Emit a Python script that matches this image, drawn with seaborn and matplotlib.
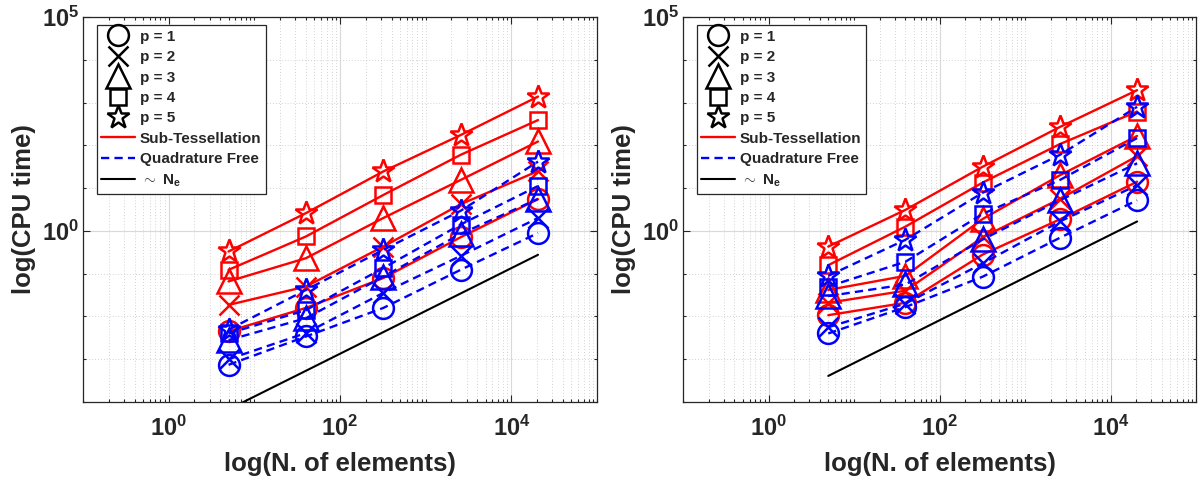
import matplotlib
matplotlib.use('Agg')
import matplotlib.pyplot as plt
import numpy as np
import pandas as pd
import seaborn as sns
from matplotlib.lines import Line2D
from matplotlib.ticker import FixedLocator, FixedFormatter, LogLocator, NullFormatter

# Data (CPU time in seconds)
n_elements = [5, 40, 320, 2560, 20480]
orders = ['p = 1', 'p = 2', 'p = 3', 'p = 4', 'p = 5']

# left panel, one row per p
left_sub_tess = [
    [0.0045, 0.0158, 0.079, 0.71, 5.5],
    [0.0186, 0.050, 0.43, 4.2, 25],
    [0.066, 0.23, 2.0, 15.5, 123],
    [0.123, 0.74, 6.9, 60, 389],
    [0.33, 2.6, 24.5, 174, 1380],
]
left_quad_free = [
    [0.00074, 0.0034, 0.0158, 0.123, 0.89],
    [0.0010, 0.0041, 0.0355, 0.26, 2.0],
    [0.0028, 0.0091, 0.085, 0.85, 5.6],
    [0.0040, 0.0141, 0.135, 1.41, 11.2],
    [0.0049, 0.0417, 0.36, 2.95, 41.7],
]
left_ref = [6.7e-5, 0.276]

# right panel
right_sub_tess = [
    [0.0107, 0.0209, 0.28, 1.86, 14.1],
    [0.0209, 0.040, 0.71, 5.6, 56],
    [0.0417, 0.089, 1.9, 20, 166],
    [0.158, 1.26, 13.5, 107, 617],
    [0.43, 3.1, 31.6, 269, 1950],
]
right_quad_free = [
    [0.0040, 0.0166, 0.085, 0.69, 5.2],
    [0.0056, 0.020, 0.174, 1.66, 11.7],
    [0.030, 0.056, 0.63, 5.2, 38],
    [0.050, 0.19, 2.5, 15.5, 148],
    [0.089, 0.62, 7.8, 60, 794],
]
right_ref = [4.07e-4, 1.66]
ref_x = [5, 20480]

markers = ['o', 'x', '^', 's', '*']
msizes = [15, 14, 17, 12, 17]
dark = '#262626'
dash = (0, (3.5, 2.2))

sns.set_style('ticks')
plt.rcParams.update({
    'font.family': ['Liberation Sans', 'DejaVu Sans'],
    'font.weight': 'bold',
    'axes.labelweight': 'bold',
    'mathtext.fontset': 'custom',
    'mathtext.rm': 'Liberation Sans',
    'mathtext.bf': 'Liberation Sans:bold',
    'text.color': dark,
    'axes.labelcolor': dark,
    'xtick.color': dark,
    'ytick.color': dark,
    'axes.edgecolor': dark,
})


def draw_panel(ax, sub_tess, quad_free, ref):
    for i in range(5):
        sns.lineplot(x=n_elements, y=sub_tess[i], ax=ax, color='red', linewidth=1.7,
                     marker=markers[i], markersize=msizes[i], markerfacecolor='none',
                     markeredgecolor='red', markeredgewidth=1.8)
    for i in range(5):
        sns.lineplot(x=n_elements, y=quad_free[i], ax=ax, color='blue', linewidth=1.7,
                     linestyle=dash, marker=markers[i], markersize=msizes[i],
                     markerfacecolor='none', markeredgecolor='blue', markeredgewidth=1.8)
    sns.lineplot(x=ref_x, y=ref, ax=ax, color='black', linewidth=1.5)

    ax.set_xscale('log')
    ax.set_yscale('log')
    ax.set_xlim(1e-1, 1e5)
    ax.set_ylim(1e-4, 1e5)

    ax.xaxis.set_major_locator(FixedLocator([1, 1e2, 1e4]))
    ax.xaxis.set_major_formatter(FixedFormatter([r'$\mathbf{10^{0}}$', r'$\mathbf{10^{2}}$',
                                                 r'$\mathbf{10^{4}}$']))
    ax.xaxis.set_minor_locator(LogLocator(base=10, subs=np.arange(1, 10), numticks=30))
    ax.xaxis.set_minor_formatter(NullFormatter())
    ax.yaxis.set_major_locator(FixedLocator([1, 1e5]))
    ax.yaxis.set_major_formatter(FixedFormatter([r'$\mathbf{10^{0}}$', r'$\mathbf{10^{5}}$']))
    ax.yaxis.set_minor_locator(FixedLocator([10.0 ** k for k in range(-4, 5)]))
    ax.yaxis.set_minor_formatter(NullFormatter())

    ax.grid(True, which='major', color='#d9d9d9', linewidth=0.8, linestyle='-')
    ax.grid(True, which='minor', color='#c4c4c4', linewidth=0.6, linestyle=(0, (1, 2.5)))
    ax.set_axisbelow(True)
    ax.tick_params(which='both', direction='in', top=True, right=True, width=0.8)
    ax.tick_params(which='major', length=5, labelsize=17)
    ax.tick_params(axis='x', which='major', pad=10)
    ax.tick_params(axis='y', which='major', pad=3)
    ax.tick_params(which='minor', length=2.5)
    for s in ax.spines.values():
        s.set_linewidth(0.9)

    ax.set_xlabel('log(N. of elements)', fontsize=18.5, fontweight='bold', labelpad=8)
    ax.set_ylabel('log(CPU time)', fontsize=18.5, fontweight='bold', labelpad=4)

    handles = [Line2D([], [], color='black', marker=markers[i], linestyle='none',
                      markersize=msizes[i], markerfacecolor='none', markeredgewidth=1.8)
               for i in range(5)]
    handles += [Line2D([], [], color='red', linewidth=1.7),
                Line2D([], [], color='blue', linewidth=1.7, linestyle=dash),
                Line2D([], [], color='black', linewidth=1.5)]
    labels = orders + ['Sub-Tessellation', 'Quadrature Free', r'$\sim$ $\mathbf{N_e}$']
    leg = ax.legend(handles, labels, loc='upper left', bbox_to_anchor=(0.027, 0.979),
                    borderaxespad=0, prop={'weight': 'bold', 'size': 11},
                    fancybox=False, framealpha=1, edgecolor=dark, borderpad=0.3,
                    labelspacing=0.42, handlelength=2.2, handletextpad=0.3)
    leg.get_frame().set_linewidth(0.9)


fig = plt.figure(figsize=(11.98, 4.82), dpi=100)
ax_left = fig.add_axes([83 / 1198, 80 / 482, 514 / 1198, 385 / 482])
ax_right = fig.add_axes([683 / 1198, 80 / 482, 513 / 1198, 385 / 482])

draw_panel(ax_left, left_sub_tess, left_quad_free, left_ref)
draw_panel(ax_right, right_sub_tess, right_quad_free, right_ref)

fig.savefig('out.png', dpi=100)
